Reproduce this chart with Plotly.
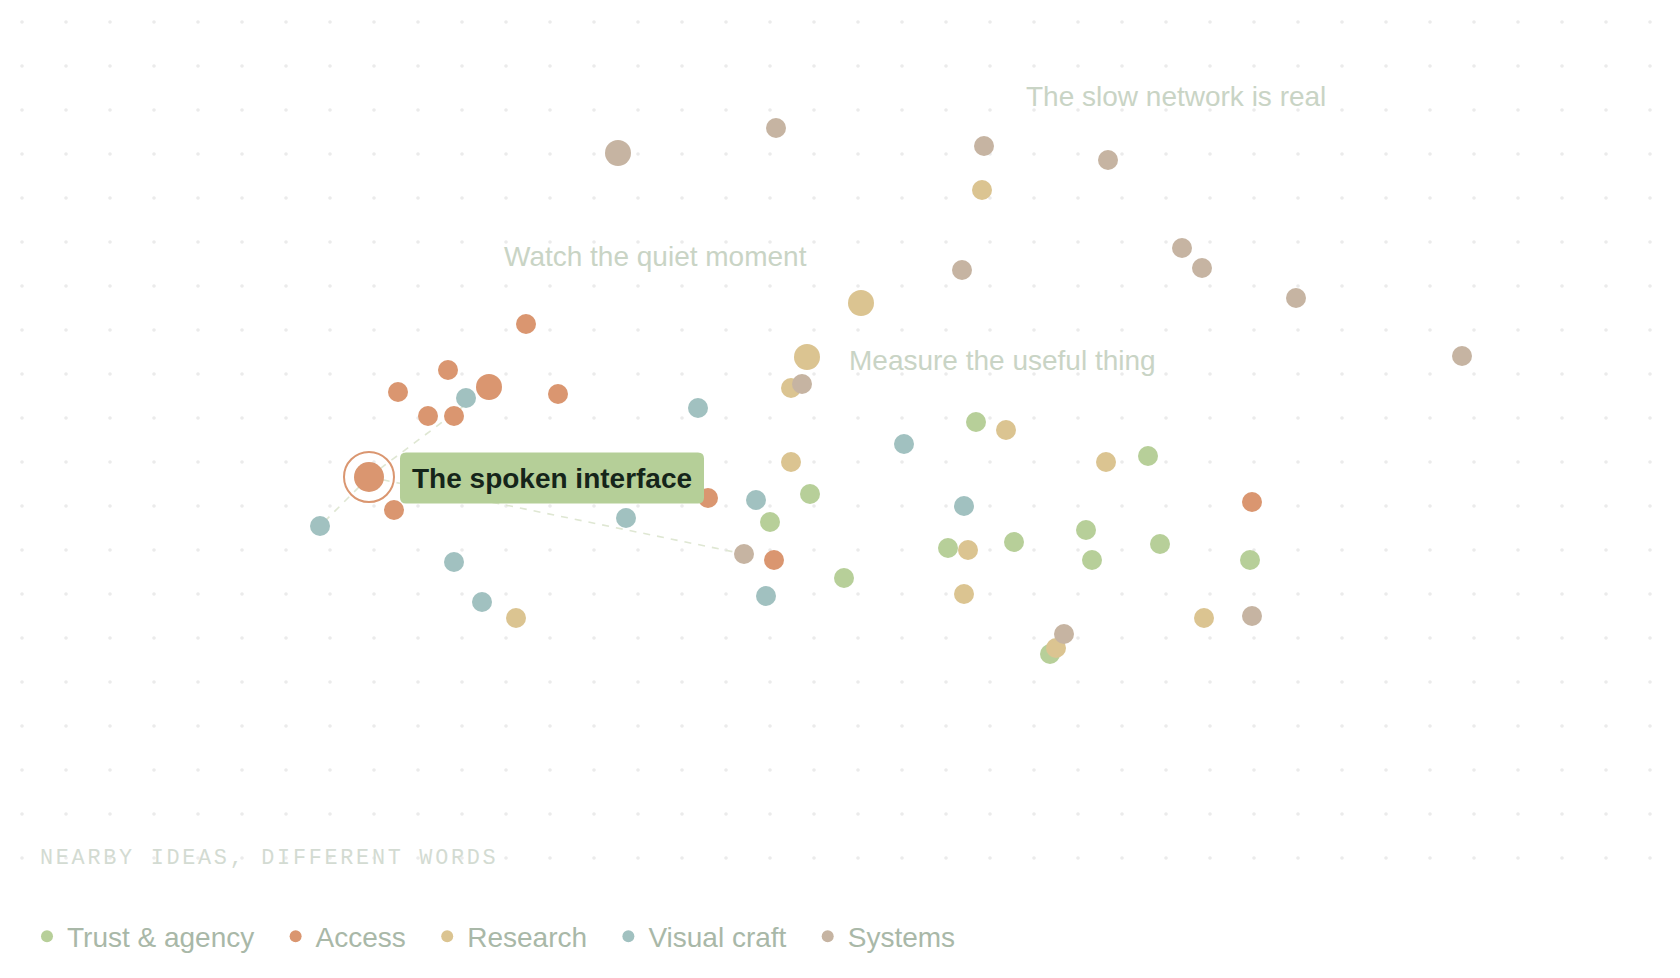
import numpy as np
import plotly.graph_objects as go

# ---------------- data (embedding positions) ----------------
categories = ["Trust & agency", "Access", "Research", "Visual craft", "Systems"]
colors = ["#b7cf99", "#da9670", "#dbc491", "#a1c1c0", "#c6b4a2"]

trust_x = [976, 1148, 810, 770, 948, 1014, 1086, 1160, 1092, 1250, 844, 1050]
trust_y = [422, 456, 494, 522, 548, 542, 530, 544, 560, 560, 578, 654]
trust_w = [1] * 12

access_x = [526, 448, 398, 489, 558, 428, 454, 369, 394, 708, 774, 1252]
access_y = [324, 370, 392, 387, 394, 416, 416, 477, 510, 498, 560, 502]
access_w = [1, 1, 1, 2, 1, 1, 1, 3, 1, 1, 1, 1]

research_x = [982, 861, 807, 791, 1006, 791, 1106, 968, 964, 1204, 1056, 516]
research_y = [190, 303, 357, 388, 430, 462, 462, 550, 594, 618, 648, 618]
research_w = [1, 2, 2, 1, 1, 1, 1, 1, 1, 1, 1, 1]

visual_x = [466, 698, 320, 626, 756, 904, 964, 454, 482, 766]
visual_y = [398, 408, 526, 518, 500, 444, 506, 562, 602, 596]
visual_w = [1] * 10

systems_x = [776, 618, 984, 1108, 962, 1182, 1202, 1296, 1462, 802, 744, 1252, 1064]
systems_y = [128, 153, 146, 160, 270, 248, 268, 298, 356, 384, 554, 616, 634]
systems_w = [1, 2, 1, 1, 1, 1, 1, 1, 1, 1, 1, 1, 1]

series_x = [trust_x, access_x, research_x, visual_x, systems_x]
series_y = [trust_y, access_y, research_y, visual_y, systems_y]
series_w = [trust_w, access_w, research_w, visual_w, systems_w]

# highlighted idea and its nearest neighbours: (category index, point index)
highlight = (1, 7)
highlight_label = "The spoken interface"
neighbours = [(3, 2), (1, 3), (4, 10)]

# cluster annotations
cluster_labels = ["Watch the quiet moment", "Measure the useful thing", "The slow network is real"]
cluster_x = [503, 848, 1025]
cluster_y = [256, 360, 96]

caption = "NEARBY IDEAS, DIFFERENT WORDS"

# ---------------- styling ----------------
W, H = 1680, 978
OFF = 8  # page body margin compensation
size_map = {1: 20, 2: 26, 3: 30}
SANS = "Liberation Sans, Arial, Helvetica, sans-serif"

fig = go.Figure()

# background dot grid (decoration)
gx, gy = np.meshgrid(np.arange(22, W, 44), np.arange(22, 870, 44))
fig.add_trace(go.Scatter(x=gx.ravel(), y=gy.ravel(), mode="markers",
                         marker=dict(size=3.6, color="#ebebeb"),
                         hoverinfo="skip", showlegend=False))

# dashed neighbour links
hx = series_x[highlight[0]][highlight[1]]
hy = series_y[highlight[0]][highlight[1]]
for c, i in neighbours:
    fig.add_trace(go.Scatter(x=[hx, series_x[c][i]], y=[hy, series_y[c][i]], mode="lines",
                             line=dict(color="#dfe7d3", width=1.6, dash="7px,7px"),
                             hoverinfo="skip", showlegend=False))

# category points
pad = "\u2002\u200a"
for name, col, xs, ys, ws in zip(categories, colors, series_x, series_y, series_w):
    fig.add_trace(go.Scatter(x=xs, y=ys, mode="markers", name=name + pad,
                             marker=dict(size=[size_map[w] for w in ws], color=col,
                                         line=dict(width=0), opacity=1),
                             hovertemplate=name + "<extra></extra>"))

# highlight ring
fig.add_trace(go.Scatter(x=[hx], y=[hy], mode="markers",
                         marker=dict(symbol="circle-open", size=50,
                                     line=dict(width=2, color=colors[highlight[0]]),
                                     color=colors[highlight[0]]),
                         hoverinfo="skip", showlegend=False))

# highlight label: rounded box placed relative to the highlighted point
bl, bw, bt, bb, r = hx + 31, 304, hy - 24.5, hy + 26.5, 6
br = bl + bw
path = (f"M {bl + r},{bt} L {br - r},{bt} Q {br},{bt} {br},{bt + r} "
        f"L {br},{bb - r} Q {br},{bb} {br - r},{bb} L {bl + r},{bb} "
        f"Q {bl},{bb} {bl},{bb - r} L {bl},{bt + r} Q {bl},{bt} {bl + r},{bt} Z")
fig.add_shape(type="path", path=path, xref="x", yref="y", fillcolor="#b5cf98",
              line=dict(width=0), layer="above")
fig.add_annotation(x=bl + bw / 2, y=(bt + bb) / 2, xref="x", yref="y",
                   text="<b>" + highlight_label + "</b>",
                   showarrow=False, xanchor="center", yanchor="middle",
                   font=dict(family=SANS, size=28, color="#15251a"))

# cluster labels
for t, x, y in zip(cluster_labels, cluster_x, cluster_y):
    fig.add_annotation(x=x, y=y, xref="x", yref="y", text=t, showarrow=False,
                       xanchor="left", yanchor="middle", borderpad=0,
                       font=dict(family=SANS, size=28, color="#c9d4c5"))

# caption (letter-spaced)
fig.add_annotation(x=38.5, y=858, xref="x", yref="y", text="\u200a\u200a".join(caption),
                   showarrow=False, xanchor="left", yanchor="middle", borderpad=0,
                   font=dict(family="Courier New, Liberation Mono, monospace", size=21.8,
                             color="#d3dbd2"))

fig.update_layout(
    width=W, height=H,
    margin=dict(l=0, r=0, t=0, b=0),
    paper_bgcolor="white", plot_bgcolor="white",
    xaxis=dict(range=[OFF, W + OFF], visible=False, fixedrange=True),
    yaxis=dict(range=[H + OFF, OFF], visible=False, fixedrange=True),
    showlegend=True,
    legend=dict(orientation="h", x=19 / W, y=1 - 928.5 / H, xanchor="left", yanchor="middle",
                font=dict(family=SANS, size=28, color="#a9b8a8"),
                itemsizing="constant", bgcolor="rgba(0,0,0,0)", itemclick=False,
                itemdoubleclick=False),
    hovermode="closest",
)

fig.write_html("out.html")
